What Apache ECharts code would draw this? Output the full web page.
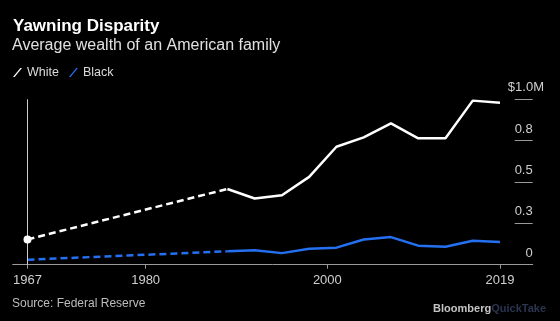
<!DOCTYPE html>
<html>
<head>
<meta charset="utf-8">
<script src="https://cdn.jsdelivr.net/npm/echarts@6/dist/echarts.min.js"></script>
<style>
html,body{margin:0;padding:0;background:#000;}
#chart{width:560px;height:321px;}
</style>
</head>
<body>
<div id="chart"></div>
<script>
// Data (average wealth, $ millions)
var whiteEarlyYears = [1967, 1989];
var whiteEarlyValues = [0.153, 0.458];
var blackEarlyYears = [1967, 1989];
var blackEarlyValues = [0.030, 0.081];
var surveyYears = [1989, 1992, 1995, 1998, 2001, 2004, 2007, 2010, 2013, 2016, 2019];
var whiteValues = [0.458, 0.400, 0.420, 0.531, 0.713, 0.770, 0.855, 0.764, 0.764, 0.992, 0.979];
var blackValues = [0.081, 0.087, 0.070, 0.097, 0.103, 0.152, 0.167, 0.115, 0.109, 0.145, 0.137];
var xTickYears = [1967, 1980, 2000, 2019];
var yTickLabels = ['0', '0.3', '0.5', '0.8', '$1.0M'];

function pairs(xs, ys) { return xs.map(function (x, i) { return [x, ys[i]]; }); }

var WHITE = '#ffffff';
var BLUE = '#2470f0';
var FONT = 'Liberation Sans, Arial, sans-serif';
var LAST = yTickLabels.length - 1;

function yLabel(v) { return Math.round(v / 0.25); }

var chart = echarts.init(document.getElementById('chart'));
chart.setOption({
  backgroundColor: '#000000',
  animation: false,
  title: [
    { text: 'Yawning Disparity', left: 13, top: 18, padding: 0,
      textStyle: { color: '#ffffff', fontSize: 17, fontWeight: 'bold', fontFamily: FONT } },
    { text: 'Average wealth of an American family', left: 12, top: 38, padding: 0,
      textStyle: { color: '#e0e0e0', fontSize: 16, fontWeight: 'normal', fontFamily: FONT } },
    { text: 'Source: Federal Reserve', left: 12, top: 298, padding: 0,
      textStyle: { color: '#bdbdbd', fontSize: 12, fontWeight: 'normal', fontFamily: FONT } },
    { text: '{b|Bloomberg}{q|QuickTake}', right: 14, top: 303, padding: 0,
      textStyle: { rich: {
        b: { color: '#c4c4c4', fontSize: 11, fontWeight: 'bold', fontFamily: FONT },
        q: { color: '#2b3550', fontSize: 11, fontWeight: 'bold', fontFamily: FONT }
      } } }
  ],
  legend: {
    left: 13, top: 66, padding: 0,
    data: ['White', 'Black'],
    icon: 'path://M0,10 L1.8,10 L10,0 L8.2,0 Z',
    itemWidth: 9, itemHeight: 10, itemGap: 10,
    textStyle: { color: '#dcdcdc', fontSize: 12.5, fontFamily: FONT }
  },
  grid: { left: 12.7, right: 27.3, top: 99.3, bottom: 56.3, containLabel: false },
  xAxis: {
    type: 'value', min: 1965.37, max: 2022.6,
    axisLine: { show: true, lineStyle: { color: '#9a9a9a', width: 1 } },
    axisTick: { show: true, customValues: xTickYears, length: 4, lineStyle: { color: '#9a9a9a' } },
    axisLabel: { show: true, customValues: xTickYears, color: '#cfcfcf', fontSize: 13, fontFamily: FONT, margin: 9,
      formatter: function (v) { return String(v); } },
    splitLine: { show: false }
  },
  yAxis: [
    {
      type: 'value', position: 'right', min: 0, max: 1, interval: 0.25,
      axisLine: { show: false },
      axisTick: { show: true, inside: true, length: 18, lineStyle: { color: '#9a9a9a', width: 1 } },
      axisLabel: {
        inside: true, margin: 0, color: '#cfcfcf', fontSize: 13, fontFamily: FONT,
        verticalAlign: 'bottom', padding: [0, 0, 5, 0],
        formatter: function (v) { var i = yLabel(v); return i === LAST ? '' : yTickLabels[i]; }
      },
      splitLine: { show: false }
    },
    {
      type: 'value', position: 'right', offset: 11.3, min: 0, max: 1, interval: 0.25,
      axisLine: { show: false },
      axisTick: { show: false },
      axisLabel: {
        inside: true, margin: 0, color: '#cfcfcf', fontSize: 13, fontFamily: FONT,
        verticalAlign: 'bottom', padding: [0, 0, 5, 0],
        formatter: function (v) { var i = yLabel(v); return i === LAST ? yTickLabels[i] : ''; }
      },
      splitLine: { show: false }
    }
  ],
  series: [
    { name: 'WhiteEarly', type: 'line', data: pairs(whiteEarlyYears, whiteEarlyValues),
      symbol: 'none', z: 4,
      lineStyle: { color: WHITE, width: 2.5, type: [7, 4] }, itemStyle: { color: WHITE },
      markLine: { silent: true, symbol: 'none', label: { show: false },
        lineStyle: { color: '#cccccc', width: 1, type: 'solid' },
        data: [{ xAxis: whiteEarlyYears[0] }] } },
    { name: 'WhiteStart', type: 'scatter', data: [[whiteEarlyYears[0], whiteEarlyValues[0]]],
      symbol: 'circle', symbolSize: 8, itemStyle: { color: WHITE, opacity: 1 }, z: 5 },
    { name: 'BlackEarly', type: 'line', data: pairs(blackEarlyYears, blackEarlyValues),
      symbol: 'none', z: 3,
      lineStyle: { color: BLUE, width: 2.5, type: [7, 4] }, itemStyle: { color: BLUE } },
    { name: 'White', type: 'line', data: pairs(surveyYears, whiteValues),
      symbol: 'none', z: 4,
      lineStyle: { color: WHITE, width: 2.5 }, itemStyle: { color: WHITE } },
    { name: 'Black', type: 'line', data: pairs(surveyYears, blackValues),
      symbol: 'none', z: 3,
      lineStyle: { color: BLUE, width: 2.5 }, itemStyle: { color: BLUE } }
  ]
});
</script>
</body>
</html>
